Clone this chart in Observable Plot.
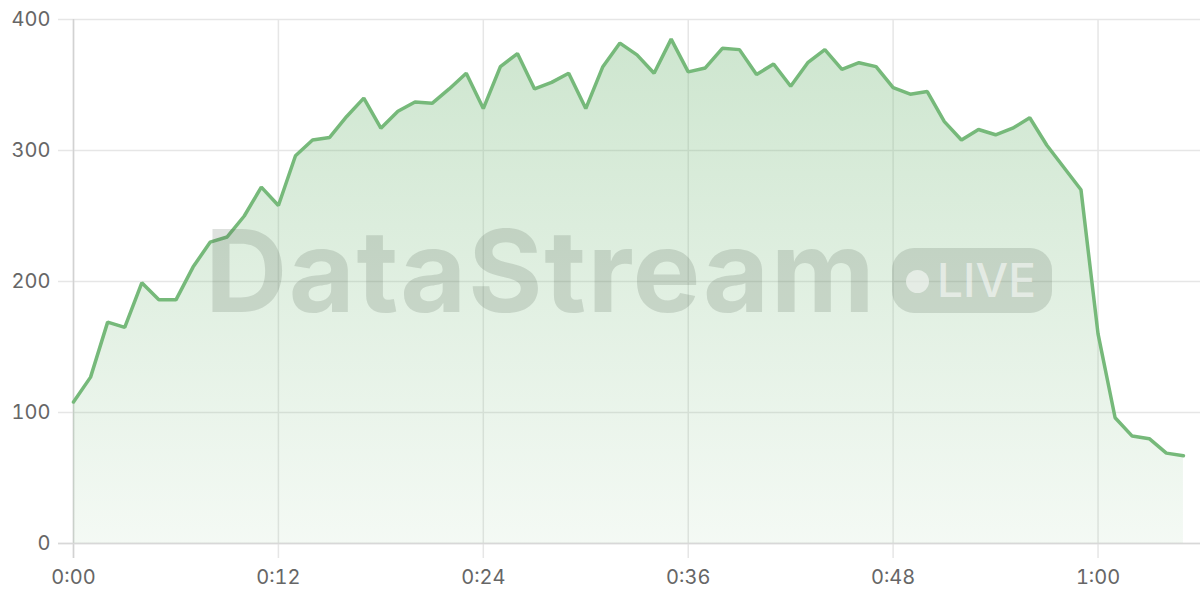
<!DOCTYPE html>
<html>
<head>
<meta charset="utf-8">
<script src="https://cdn.jsdelivr.net/npm/d3@7"></script>
<script src="https://cdn.jsdelivr.net/npm/@observablehq/plot@0.6"></script>
<style>
  html, body { margin: 0; padding: 0; background: #fff; }
  #wrap { position: relative; width: 1200px; height: 600px; overflow: hidden; }
  #wm { position: absolute; left: 0; top: 0; width: 1200px; height: 600px; pointer-events: none;
        font-family: Inter, "Noto Sans", sans-serif; }
  #wm .name { position: absolute; left: 205px; top: 214px; font-size: 114px; font-weight: 700;
              letter-spacing: 1.5px; color: rgba(90,105,90,0.2); line-height: 1; }
  #wm .pill { position: absolute; left: 892px; top: 248px; width: 160px; height: 65px; border-radius: 22px;
              background: rgba(90,105,90,0.2); }
  #wm .dot { position: absolute; left: 906px; top: 270px; width: 23px; height: 23px; border-radius: 50%;
             background: rgba(255,255,255,0.55); }
  #wm .live { position: absolute; left: 937px; top: 257px; font-size: 46px; font-weight: 500;
              color: rgba(255,255,255,0.55); line-height: 1; letter-spacing: 0px; }
</style>
</head>
<body>
<div id="wrap">
  <div id="chart"></div>
  <div id="wm"><div class="name">DataStream</div><div class="pill"></div><div class="dot"></div><div class="live">LIVE</div></div>
</div>
<script>
const minutes = d3.range(0, 66);
const values = [
  108, 127, 169, 165, 199, 186, 186, 211, 230, 234,
  250, 272, 258, 296, 308, 310, 326, 340, 317, 330,
  337, 336, 347, 359, 332, 364, 374, 347, 352, 359,
  332, 364, 382, 373, 359, 385, 360, 363, 378, 377,
  358, 366, 349, 367, 377, 362, 367, 364, 348, 343,
  345, 322, 308, 316, 312, 317, 325, 304, 287, 270,
  160, 96, 82, 80, 69, 67
];
const xTicks = [0, 12, 24, 36, 48, 60];
const yTicks = [0, 100, 200, 300, 400];

const data = minutes.map((m, i) => ({m, v: values[i]}));
const fmt = m => `${Math.floor(m / 60)}:${String(m % 60).padStart(2, "0")}`;

const gradientDefs = () => {
  const ns = "http://www.w3.org/2000/svg";
  const defs = document.createElementNS(ns, "defs");
  const g = document.createElementNS(ns, "linearGradient");
  g.setAttribute("id", "areaGrad");
  g.setAttribute("x1", "0"); g.setAttribute("y1", "0");
  g.setAttribute("x2", "0"); g.setAttribute("y2", "1");
  [["0%", 0.36], ["100%", 0.08]].forEach(([o, a]) => {
    const s = document.createElementNS(ns, "stop");
    s.setAttribute("offset", o);
    s.setAttribute("stop-color", "#76b97a");
    s.setAttribute("stop-opacity", a);
    g.appendChild(s);
  });
  defs.appendChild(g);
  return defs;
};

const plot = Plot.plot({
  width: 1200,
  height: 600,
  marginLeft: 73,
  marginRight: 0,
  marginTop: 19,
  marginBottom: 57,
  style: {fontFamily: "Inter, 'Noto Sans', sans-serif", fontSize: "20px", color: "#666", background: "#fff"},
  x: {domain: [0, 66], ticks: xTicks, tickFormat: fmt, label: null},
  y: {domain: [0, 400], ticks: yTicks, label: null},
  marks: [
    gradientDefs,
    Plot.gridY(yTicks, {stroke: "#e6e6e6", strokeOpacity: 1, strokeWidth: 1.5, insetLeft: -15}),
    Plot.gridX(xTicks, {stroke: "#e6e6e6", strokeOpacity: 1, strokeWidth: 1.5, insetBottom: -15}),
    Plot.ruleX([0], {stroke: "#d2d2d2", strokeWidth: 1.5, insetBottom: -15}),
    Plot.ruleY([0], {stroke: "#d8d8d8", strokeWidth: 1.5, insetLeft: -15}),
    Plot.areaY(data, {x: "m", y: "v", fill: "url(#areaGrad)"}),
    Plot.lineY(data, {x: "m", y: "v", stroke: "#76b97a", strokeWidth: 3.5, strokeLinejoin: "miter"}),
    Plot.axisX(xTicks, {tickSize: 0, tickPadding: 26, tickFormat: fmt, fill: "#666", fontSize: 20}),
    Plot.axisY(yTicks, {tickSize: 0, tickPadding: 23, fill: "#666", fontSize: 20})
  ]
});
document.getElementById("chart").appendChild(plot);
</script>
</body>
</html>
